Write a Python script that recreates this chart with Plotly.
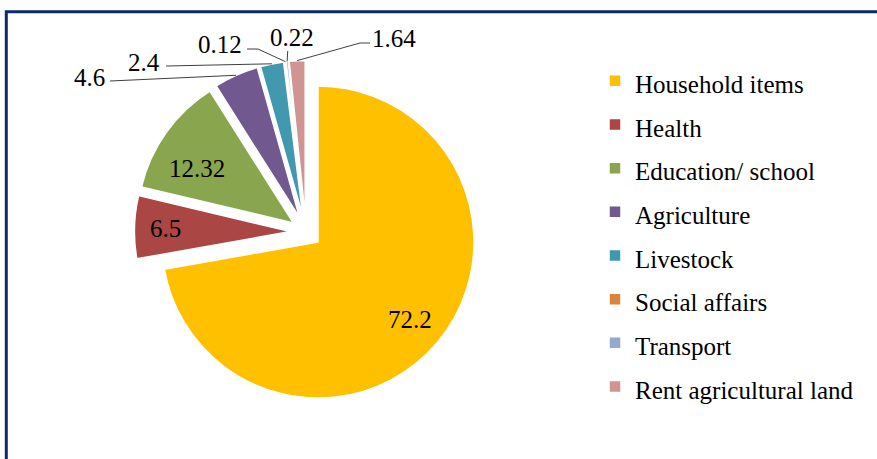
import math
import plotly.graph_objects as go

# ---------------- data ----------------
categories = ["Household items", "Health", "Education/ school", "Agriculture",
              "Livestock", "Social affairs", "Transport", "Rent agricultural land"]
values = [72.2, 6.5, 12.32, 4.6, 2.4, 0.12, 0.22, 1.64]
value_labels = ["72.2", "6.5", "12.32", "4.6", "2.4", "0.12", "0.22", "1.64"]
label_inside = [True, True, True, False, False, False, False, False]

# ---------------- style ----------------
colors = ["#FFC000", "#AA4643", "#89A54E", "#71588F",
          "#4198AF", "#DB843D", "#93A9CF", "#D09493"]
FONT = "Liberation Serif, DejaVu Serif, serif"
W, H = 877, 459
CX, CY = 306, 232          # pie centre (px)
R = 156                    # pie radius (px)
PULL = 0.1
HALF = R * (1 + PULL)

# placement of the inside labels: (fraction of radius, angular nudge in degrees)
inside_place = {"Household items": (0.77, 0.0), "Health": (0.80, 0.0),
                "Education/ school": (0.71, -6.0)}

# layout of the outside labels (pixel positions of text and leader-line anchors)
outside_layout = {
    "Agriculture":            dict(tx=107, ty=77, xa="right", pts=[(110, 81)]),
    "Livestock":              dict(tx=162, ty=62, xa="right", pts=[(166, 66)]),
    "Social affairs":         dict(tx=244, ty=45, xa="right", pts=[(247, 49), (258, 49)]),
    "Transport":              dict(tx=291.5, ty=37.5, xa="center", pts=[(287.7, 51)]),
    "Rent agricultural land": dict(tx=370, ty=38, xa="left", pts=[(370, 43), (360, 43)]),
}


def px(x, y):
    return x / W, 1 - y / H


dom_x = [(CX - HALF) / W, (CX + HALF) / W]
dom_y = [1 - (CY + HALF) / H, 1 - (CY - HALF) / H]

legend_names = ['<span style="font-size:25px">%s</span>' % c for c in categories]

fig = go.Figure(go.Pie(
    labels=legend_names,
    values=values,
    textinfo="none",
    marker=dict(colors=colors, line=dict(color="white", width=1.5)),
    pull=PULL,
    sort=False,
    direction="clockwise",
    rotation=0,
    domain=dict(x=dom_x, y=dom_y),
    hoverinfo="label+value",
))

# data labels; positions derived from each slice's angle
total = sum(values)
cum = 0.0
shapes = []
annotations = []
lab_font = dict(family=FONT, size=25, color="black")
for cat, v, lab, ins in zip(categories, values, value_labels, label_inside):
    mid = (cum + v / 2) / total * 2 * math.pi
    cum += v
    dx, dy = math.sin(mid), -math.cos(mid)
    if ins:
        f, nudge = inside_place[cat]
        ang = mid + math.radians(nudge)
        ax0 = CX + R * PULL * dx
        ay0 = CY + R * PULL * dy
        lx = ax0 + R * f * math.sin(ang)
        ly = ay0 - R * f * math.cos(ang)
        ax, ay = px(lx, ly)
        annotations.append(dict(x=ax, y=ay, xref="paper", yref="paper", text=lab,
                                showarrow=False, xanchor="center", yanchor="middle",
                                font=lab_font))
        continue
    lay = outside_layout[cat]
    ox = CX + HALF * dx
    oy = CY + HALF * dy
    pts = lay["pts"] + [(ox, oy)]
    path = "M " + " L ".join("%.4f,%.4f" % px(x, y) for x, y in pts)
    shapes.append(dict(type="path", xref="paper", yref="paper", path=path,
                       line=dict(color="#404040", width=1)))
    ax, ay = px(lay["tx"], lay["ty"])
    annotations.append(dict(x=ax, y=ay, xref="paper", yref="paper", text=lab,
                            showarrow=False, xanchor=lay["xa"], yanchor="middle",
                            font=lab_font))

# chart frame
shapes.append(dict(type="rect", xref="paper", yref="paper",
                   x0=6.3 / W, y0=1 - 11.7 / H, x1=1.2, y1=-0.2,
                   line=dict(color="#0E2A6E", width=3)))

fig.update_layout(
    width=W, height=H,
    margin=dict(l=0, r=0, t=0, b=0),
    paper_bgcolor="white",
    plot_bgcolor="white",
    font=dict(family=FONT, color="black"),
    showlegend=True,
    legend=dict(x=595 / W, xanchor="left", y=1 - 54 / H, yanchor="top",
                font=dict(family=FONT, size=31.28, color="black"),
                bgcolor="rgba(0,0,0,0)", borderwidth=0),
    shapes=shapes,
    annotations=annotations,
)

fig.write_html("out.html", config={"displayModeBar": False},
               post_script="document.body.style.margin='0px';document.body.style.overflow='hidden';")
